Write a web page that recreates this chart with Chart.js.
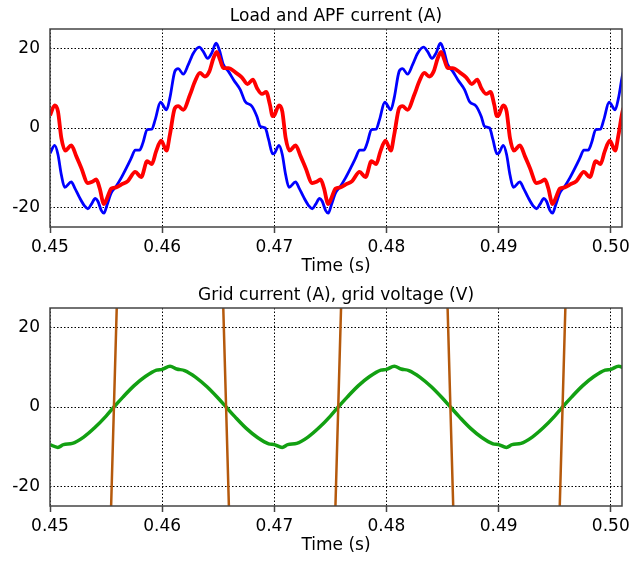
<!DOCTYPE html>
<html>
<head>
<meta charset="utf-8">
<script src="https://cdn.jsdelivr.net/npm/chart.js"></script>
<style>
html, body { margin: 0; padding: 0; background: #fff; }
.box { position: absolute; left: 0; width: 640px; height: 283px; }
</style>
</head>
<body>
<div class="box" style="top:0"><canvas id="apfChart"></canvas></div>
<div class="box" style="top:283px"><canvas id="gridChart"></canvas></div>
<script>
// tick labels
const xTicks = [0.45, 0.46, 0.47, 0.48, 0.49, 0.50];
const yTicks = [-20, 0, 20];

// load current (A): [time s, value]
const loadCurrent = [
  [0.45000,-6.4],[0.45042,-4.4],[0.45071,-6.7],[0.45101,-11.8],[0.45131,-15.0],[0.45190,-13.6],
  [0.45220,-15.1],[0.45264,-17.6],[0.45309,-19.7],[0.45338,-20.4],[0.45368,-19.3],[0.45404,-17.8],
  [0.45427,-18.5],[0.45457,-20.8],[0.45481,-21.5],[0.45510,-19.3],[0.45546,-16.4],[0.45590,-14.7],
  [0.45635,-12.6],[0.45688,-9.7],[0.45724,-7.6],[0.45760,-5.6],[0.45798,-5.6],[0.45828,-3.8],
  [0.45866,-0.4],[0.45908,-0.3],[0.45938,2.1],[0.45985,6.5],[0.46039,4.6],[0.46069,7.6],
  [0.46113,14.3],[0.46143,15.0],[0.46188,13.6],[0.46233,16.0],[0.46278,18.9],[0.46331,20.4],
  [0.46367,19.3],[0.46406,17.6],[0.46442,18.9],[0.46481,21.4],[0.46510,19.7],[0.46546,16.0],
  [0.46591,14.3],[0.46636,12.2],[0.46696,9.7],[0.46740,6.7],[0.46800,5.5],[0.46845,2.9],
  [0.46875,0.4],[0.46919,0.0],[0.46949,-2.9],[0.46985,-6.5],
  [0.47000,-6.4],[0.47042,-4.4],[0.47071,-6.7],[0.47101,-11.8],[0.47131,-15.0],[0.47190,-13.6],
  [0.47220,-15.1],[0.47264,-17.6],[0.47309,-19.7],[0.47338,-20.4],[0.47368,-19.3],[0.47404,-17.8],
  [0.47427,-18.5],[0.47457,-20.8],[0.47481,-21.5],[0.47510,-19.3],[0.47546,-16.4],[0.47590,-14.7],
  [0.47635,-12.6],[0.47688,-9.7],[0.47724,-7.6],[0.47760,-5.6],[0.47798,-5.6],[0.47828,-3.8],
  [0.47866,-0.4],[0.47908,-0.3],[0.47938,2.1],[0.47985,6.5],[0.48039,4.6],[0.48069,7.6],
  [0.48113,14.3],[0.48143,15.0],[0.48188,13.6],[0.48233,16.0],[0.48278,18.9],[0.48331,20.4],
  [0.48367,19.3],[0.48406,17.6],[0.48442,18.9],[0.48481,21.4],[0.48510,19.7],[0.48546,16.0],
  [0.48591,14.3],[0.48636,12.2],[0.48696,9.7],[0.48740,6.7],[0.48800,5.5],[0.48845,2.9],
  [0.48875,0.4],[0.48919,0.0],[0.48949,-2.9],[0.48985,-6.5],
  [0.49000,-6.4],[0.49042,-4.4],[0.49071,-6.7],[0.49101,-11.8],[0.49131,-15.0],[0.49190,-13.6],
  [0.49220,-15.1],[0.49264,-17.6],[0.49309,-19.7],[0.49338,-20.4],[0.49368,-19.3],[0.49404,-17.8],
  [0.49427,-18.5],[0.49457,-20.8],[0.49481,-21.5],[0.49510,-19.3],[0.49546,-16.4],[0.49590,-14.7],
  [0.49635,-12.6],[0.49688,-9.7],[0.49724,-7.6],[0.49760,-5.6],[0.49798,-5.6],[0.49828,-3.8],
  [0.49866,-0.4],[0.49908,-0.3],[0.49938,2.1],[0.49985,6.5],[0.50039,4.6],[0.50069,7.6],
  [0.50113,14.3],[0.50143,15.0]
];

// APF current (A)
const apfCurrent = [
  [0.45000,3.2],[0.45042,5.7],[0.45071,4.2],[0.45101,-2.5],[0.45136,-5.7],[0.45190,-4.4],
  [0.45234,-7.1],[0.45279,-10.1],[0.45338,-13.9],[0.45377,-13.6],[0.45412,-13.0],[0.45442,-15.1],
  [0.45481,-19.2],[0.45510,-17.6],[0.45546,-15.3],[0.45590,-15.0],[0.45635,-14.3],[0.45694,-13.4],
  [0.45760,-11.1],[0.45813,-12.4],[0.45866,-8.4],[0.45908,-9.1],[0.45946,-5.9],[0.45991,-3.2],
  [0.46039,-5.7],[0.46069,-1.7],[0.46113,5.0],[0.46143,5.5],[0.46188,4.6],[0.46248,8.4],
  [0.46293,11.8],[0.46337,13.9],[0.46382,13.0],[0.46421,14.3],[0.46457,17.6],[0.46487,19.2],
  [0.46516,17.2],[0.46546,15.1],[0.46591,15.1],[0.46651,14.1],[0.46710,12.8],[0.46761,11.1],
  [0.46809,12.2],[0.46845,10.1],[0.46890,8.6],[0.46928,9.1],[0.46960,6.0],[0.46985,3.0],
  [0.47000,3.2],[0.47042,5.7],[0.47071,4.2],[0.47101,-2.5],[0.47136,-5.7],[0.47190,-4.4],
  [0.47234,-7.1],[0.47279,-10.1],[0.47338,-13.9],[0.47377,-13.6],[0.47412,-13.0],[0.47442,-15.1],
  [0.47481,-19.2],[0.47510,-17.6],[0.47546,-15.3],[0.47590,-15.0],[0.47635,-14.3],[0.47694,-13.4],
  [0.47760,-11.1],[0.47813,-12.4],[0.47866,-8.4],[0.47908,-9.1],[0.47946,-5.9],[0.47991,-3.2],
  [0.48039,-5.7],[0.48069,-1.7],[0.48113,5.0],[0.48143,5.5],[0.48188,4.6],[0.48248,8.4],
  [0.48293,11.8],[0.48337,13.9],[0.48382,13.0],[0.48421,14.3],[0.48457,17.6],[0.48487,19.2],
  [0.48516,17.2],[0.48546,15.1],[0.48591,15.1],[0.48651,14.1],[0.48710,12.8],[0.48761,11.1],
  [0.48809,12.2],[0.48845,10.1],[0.48890,8.6],[0.48928,9.1],[0.48960,6.0],[0.48985,3.0],
  [0.49000,3.2],[0.49042,5.7],[0.49071,4.2],[0.49101,-2.5],[0.49136,-5.7],[0.49190,-4.4],
  [0.49234,-7.1],[0.49279,-10.1],[0.49338,-13.9],[0.49377,-13.6],[0.49412,-13.0],[0.49442,-15.1],
  [0.49481,-19.2],[0.49510,-17.6],[0.49546,-15.3],[0.49590,-15.0],[0.49635,-14.3],[0.49694,-13.4],
  [0.49760,-11.1],[0.49813,-12.4],[0.49866,-8.4],[0.49908,-9.1],[0.49946,-5.9],[0.49991,-3.2],
  [0.50039,-5.7],[0.50069,-1.7],[0.50113,5.0],[0.50143,5.5]
];

// grid current (A)
const gridCurrent = [
  [0.4500,-9.5],[0.4507,-10.2],[0.4512,-9.5],[0.4520,-9.2],[0.4530,-7.6],[0.4540,-5.2],
  [0.4550,-2.3],[0.4557,0.0],[0.4565,2.5],[0.4575,5.4],[0.4585,7.7],[0.4595,9.3],
  [0.4600,9.5],[0.4607,10.3],[0.4613,9.6],[0.4620,9.2],[0.4630,7.5],[0.4640,5.1],
  [0.4650,2.2],[0.4657,0.0],[0.4665,-2.5],[0.4675,-5.4],[0.4685,-7.7],[0.4695,-9.3],
  [0.4700,-9.5],[0.4707,-10.2],[0.4712,-9.5],[0.4720,-9.2],[0.4730,-7.6],[0.4740,-5.2],
  [0.4750,-2.3],[0.4757,0.0],[0.4765,2.5],[0.4775,5.4],[0.4785,7.7],[0.4795,9.3],
  [0.4800,9.5],[0.4807,10.3],[0.4813,9.6],[0.4820,9.2],[0.4830,7.5],[0.4840,5.1],
  [0.4850,2.2],[0.4857,0.0],[0.4865,-2.5],[0.4875,-5.4],[0.4885,-7.7],[0.4895,-9.3],
  [0.4900,-9.5],[0.4907,-10.2],[0.4912,-9.5],[0.4920,-9.2],[0.4930,-7.6],[0.4940,-5.2],
  [0.4950,-2.3],[0.4957,0.0],[0.4965,2.5],[0.4975,5.4],[0.4985,7.7],[0.4995,9.3],
  [0.5000,9.5],[0.5007,10.3],[0.5013,9.6]
];

// grid voltage (V), only the steep part near each zero crossing is inside the axis
const gridVoltage = [
  [0.4500,-50],[0.4552,-50],[0.4557,0],[0.4562,50],
  [0.4652,50],[0.4657,0],[0.4662,-50],
  [0.4752,-50],[0.4757,0],[0.4762,50],
  [0.4852,50],[0.4857,0],[0.4862,-50],
  [0.4952,-50],[0.4957,0],[0.4962,50],[0.5020,50]
];

const FONT = '"DejaVu Sans", Verdana, sans-serif';
Chart.defaults.font.family = FONT;
Chart.defaults.font.size = 17;
Chart.defaults.color = '#000';

// frame round the plot area and a title centred on it
const framePlugin = {
  id: 'frame',
  afterDatasetsDraw(chart) {
    const a = chart.chartArea, ctx = chart.ctx;
    ctx.save();
    ctx.strokeStyle = '#444';
    ctx.lineWidth = 1.5;
    ctx.strokeRect(a.left, a.top, a.right - a.left, a.bottom - a.top);
    ctx.restore();
  },
  afterDraw(chart, args, opts) {
    const a = chart.chartArea, ctx = chart.ctx;
    ctx.save();
    ctx.font = '17px ' + FONT;
    ctx.fillStyle = '#000';
    ctx.textAlign = 'center';
    ctx.textBaseline = 'alphabetic';
    ctx.fillText(opts.text, (a.left + a.right) / 2, a.top - 8);
    ctx.restore();
  }
};

function toXY(rows) {
  return rows.map(r => ({x: r[0], y: r[1]}));
}

function makeScales() {
  return {
    x: {
      type: 'linear',
      min: 0.45,
      max: 0.501,
      afterBuildTicks: s => { s.ticks = xTicks.map(v => ({value: v})); },
      afterFit: s => { s.height = 50; },
      ticks: { callback: v => v.toFixed(2), padding: 4, maxRotation: 0, autoSkip: false },
      grid: { color: '#000', lineWidth: 1, borderDash: [1.5, 2], tickLength: 6, tickColor: '#444', tickWidth: 1.5, tickBorderDash: [] },
      border: { display: false, dash: [1.5, 2] },
      title: { display: true, text: 'Time (s)', padding: 0 }
    },
    y: {
      min: -25,
      max: 25,
      afterBuildTicks: s => { s.ticks = yTicks.map(v => ({value: v})); },
      afterFit: s => { s.width = 50; },
      ticks: { padding: 10 },
      grid: { color: '#000', lineWidth: 1, borderDash: [1.5, 2], tickLength: 0 },
      border: { display: false, dash: [1.5, 2] }
    }
  };
}

// Load and APF current
new Chart(document.getElementById('apfChart').getContext('2d'), {
  type: 'line',
  data: {
    datasets: [{
      label: 'APF current',
      data: toXY(apfCurrent),
      borderColor: '#ff0000',
      borderWidth: 3.8,
      pointRadius: 0,
      cubicInterpolationMode: 'monotone'
    }, {
      label: 'Load current',
      data: toXY(loadCurrent),
      borderColor: '#0000ff',
      borderWidth: 2.8,
      pointRadius: 0,
      cubicInterpolationMode: 'monotone'
    }]
  },
  options: {
    responsive: true,
    maintainAspectRatio: false,
    animation: false,
    layout: { padding: { top: 29, right: 18, bottom: 6, left: 0 } },
    scales: makeScales(),
    plugins: {
      legend: { display: false },
      tooltip: { enabled: false },
      frame: { text: 'Load and APF current (A)' }
    }
  },
  plugins: [framePlugin]
});

// Grid current and voltage
new Chart(document.getElementById('gridChart').getContext('2d'), {
  type: 'line',
  data: {
    datasets: [{
      label: 'Grid voltage',
      data: toXY(gridVoltage),
      borderColor: '#b5590c',
      borderWidth: 2.5,
      pointRadius: 0,
      tension: 0
    }, {
      label: 'Grid current',
      data: toXY(gridCurrent),
      borderColor: '#12a012',
      borderWidth: 3.5,
      pointRadius: 0,
      cubicInterpolationMode: 'monotone'
    }]
  },
  options: {
    responsive: true,
    maintainAspectRatio: false,
    animation: false,
    layout: { padding: { top: 25, right: 18, bottom: 10, left: 0 } },
    scales: makeScales(),
    plugins: {
      legend: { display: false },
      tooltip: { enabled: false },
      frame: { text: 'Grid current (A), grid voltage (V)' }
    }
  },
  plugins: [framePlugin]
});
</script>
</body>
</html>
